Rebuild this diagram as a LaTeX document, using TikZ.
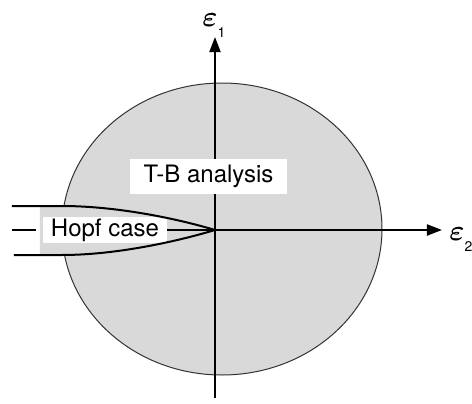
\documentclass[tikz,border=0pt]{standalone}
\usepackage{fontspec}
\setmainfont{TeX Gyre Heros}
\usepackage{xcolor}
\usepackage{tikz}
\usetikzlibrary{arrows.meta, shapes.geometric}
\definecolor{regiongray}{RGB}{217,217,217}

\begin{document}
\begin{tikzpicture}[
        x=0.5pt, y=0.5pt,
        axis/.style={
            line width=1pt,
            -{Triangle[length=7.5pt,width=5.5pt]}
        },
        bound/.style={
            draw=black!80,
            ellipse,
            line width=0.5pt,
            fill=regiongray,
            inner sep=0pt
        },
        cusp/.style={
            line width=1pt
        },
        whitelabel/.style={
            fill=white,
            inner sep=0pt,
            font=\fontsize{12}{14}\selectfont
        },
        eps/.style={
            inner sep=0pt,
            anchor=base west,
            font=\fontsize{15}{17}\selectfont\boldmath
        }
    ]
        \useasboundingbox (-215,-173) rectangle (257,230);

        % Region of the T-B analysis
        \node (region) [bound, minimum width=160pt, minimum height=146pt] at (7,1) {};
        \coordinate (O) at (0,0);
        \fill [regiongray] (-175,24) -- (-153,24) .. controls (-100,24) and (-40,12) .. (O)
            .. controls (-40,-12) and (-100,-25) .. (-153,-25) -- (-175,-25) -- cycle;

        % Axes
        \coordinate (ybot) at (0,-168);
        \coordinate (ytop) at (0,193);
        \coordinate (xl) at (-203,0);
        \coordinate (xlend) at (-179,0);
        \coordinate (xr) at (227,0);
        \draw [axis] (ybot) -- (ytop);
        \node (hopf) [whitelabel, minimum width=62pt, minimum height=13pt] at (-110,0) {Hopf case};
        \draw [line width=1pt] (xl) -- (xlend);
        \draw [axis] (hopf.east) -- (xr);

        % Hopf case boundary
        \draw [cusp] (-203,24) -- (-153,24) .. controls (-100,24) and (-40,12) .. (O)
            .. controls (-40,-12) and (-100,-25) .. (-153,-25) -- (-201,-25);

        % Labels
        \node (tb) [whitelabel, minimum width=78.5pt, minimum height=17.5pt] at (-6.5,53.5) {T-B analysis};
        \node (e1) [eps] at (-13,204) {$\varepsilon$\raisebox{-5.5pt}{\fontsize{7}{8}\selectfont 1}};
        \node (e2) [eps] at (234,-10) {$\varepsilon$\raisebox{-5.5pt}{\fontsize{7}{8}\selectfont 2}};
    \end{tikzpicture}
\end{document}
